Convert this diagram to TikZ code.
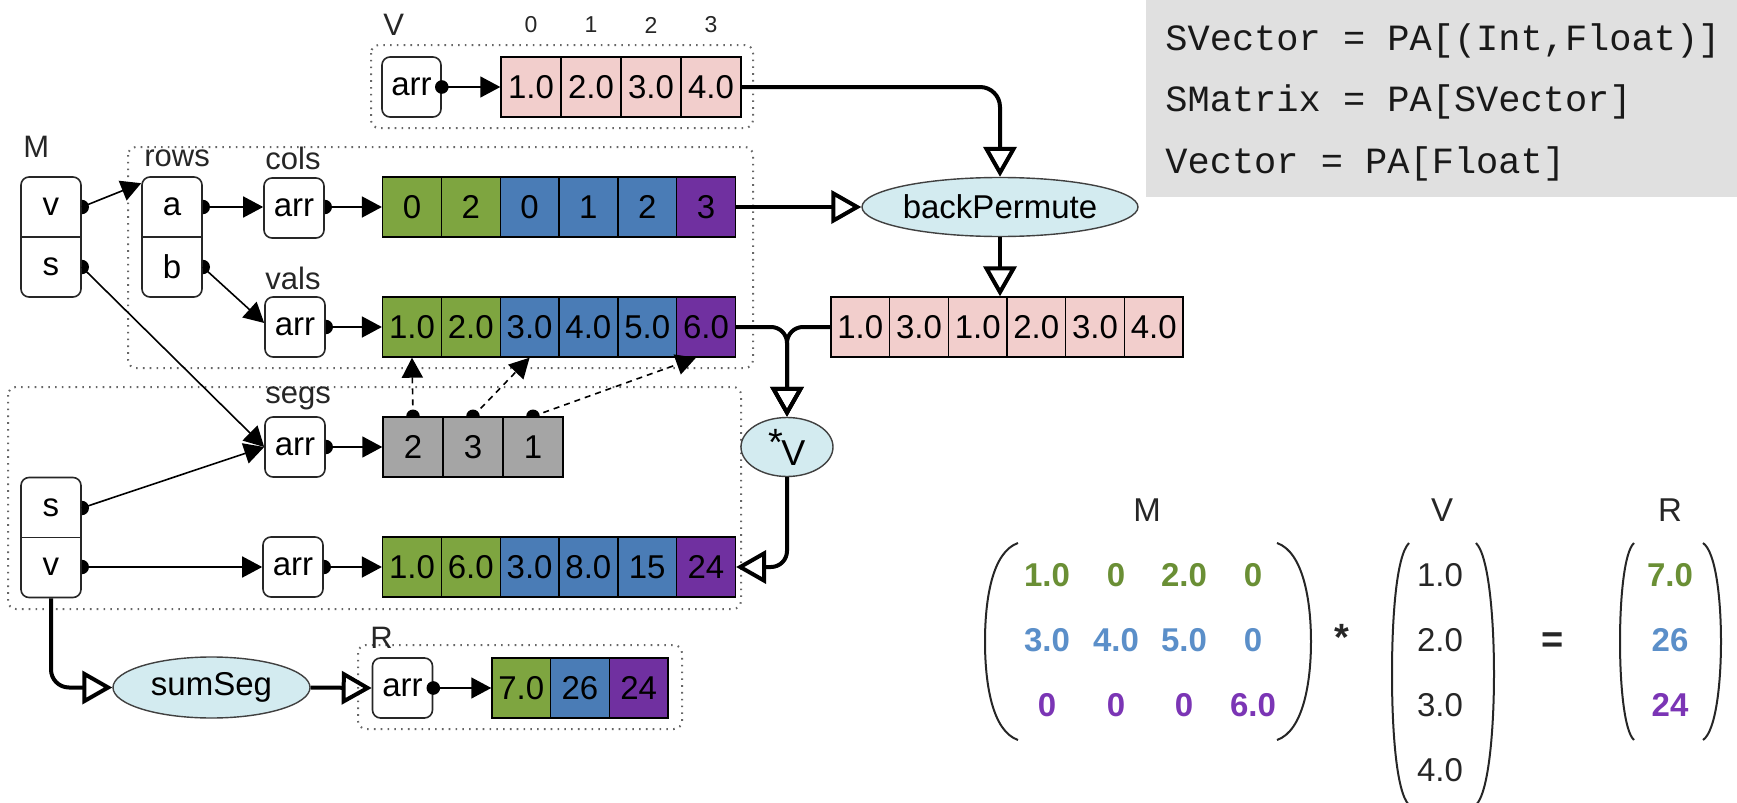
\documentclass[tikz,border=0pt]{standalone}
\usepackage{fontspec}
\setmainfont{Liberation Sans}
\newfontfamily\codefont{Liberation Mono}
\usetikzlibrary{arrows.meta,shapes.geometric,calc}
\definecolor{cgreen}{HTML}{7EA540}
\definecolor{cblue}{HTML}{4A7CB6}
\definecolor{cpurple}{HTML}{7030A0}
\definecolor{cpink}{HTML}{F2CECC}
\definecolor{cgray}{HTML}{A5A5A5}
\definecolor{opfill}{HTML}{D3EBF0}
\definecolor{codebg}{HTML}{E0E0E0}
\definecolor{tgreen}{HTML}{6A8F35}
\definecolor{tblue}{HTML}{5B8FC9}
\definecolor{tpurple}{HTML}{7B35B5}
\newcommand\halfdotR[1]{\fill (#1) ++(0pt,-3.6pt) arc[start angle=-90,end angle=90,radius=3.6pt] -- cycle;}
\newcommand\halfdotU[1]{\fill (#1) ++(-3.4pt,0pt) arc[start angle=180,end angle=0,radius=3.4pt] -- cycle;}
\tikzset{
 cf/.style={font=\fontsize{16.5pt}{19pt}\selectfont},
 cellbox/.style={draw=black, line width=0.7pt, minimum width=29.4pt, minimum height=30pt, inner sep=0pt, cf},
 arrbox/.style={draw=black!85, line width=0.8pt, rounded corners=4pt, fill=white, minimum width=30pt, minimum height=30pt, inner sep=0pt, cf},
 pairbox/.style={draw=black!85, line width=0.8pt, rounded corners=4pt, fill=white, minimum width=30pt, minimum height=60pt, inner sep=0pt},
 txt/.style={inner sep=0pt, cf},
 lbl/.style={inner sep=0pt, font=\fontsize{15.5pt}{18pt}\selectfont, text=black!85},
 idx/.style={inner sep=0pt, font=\fontsize{11.5pt}{13pt}\selectfont, text=black!85},
 op/.style={ellipse, draw=black!75, line width=0.7pt, fill=opfill, inner sep=0pt, cf},
 thinarrow/.style={line width=0.8pt, -{Triangle[length=10pt,width=10.5pt]}},
 dasharrow/.style={thinarrow, dash pattern=on 3pt off 2.5pt},
 flow/.style={line width=2pt, -{Triangle[open,length=15pt,width=16.5pt]}},
 grp/.style={draw=black!60, line width=1pt, dash pattern=on 0.8pt off 2.6pt, rounded corners=4pt},
 paren/.style={line width=1pt, draw=black!85},
 mnum/.style={inner sep=0pt, font=\bfseries\fontsize{16.5pt}{19pt}\selectfont},
 vnum/.style={inner sep=0pt, font=\fontsize{16.5pt}{19pt}\selectfont, text=black!85},
 code/.style={inner sep=0pt, font=\codefont\fontsize{18.5pt}{22pt}\selectfont, text=black!90},
}
\begin{document}
\begin{tikzpicture}[x=0.5pt,y=-0.5pt]
\useasboundingbox (0,0) rectangle (1737,803);
% group frames
\draw[grp] (371,45) rectangle (753,128);
\draw[grp] (128,147) rectangle (753,368);
\draw[grp] (8,387) rectangle (741,609);
\draw[grp] (358,645) rectangle (682,729);
% code box
\node[fill=codebg, minimum width=295.5pt, minimum height=98.5pt, anchor=north west, inner sep=0pt] (codebox) at (1146,0) {};
\node[code, anchor=base west] (l1) at (1165,50) {SVector = PA[(Int,Float)]};
\node[code, anchor=base west] (l2) at (1165,112) {SMatrix = PA[SVector]};
\node[code, anchor=base west] (l3) at (1165,173) {Vector = PA[Float]};
% V
\node[lbl, anchor=west] (Vlbl) at (383,25) {V};
\node[idx] (i0) at (531,25) {0};
\node[idx] (i1) at (591,25) {1};
\node[idx] (i2) at (651,25) {2};
\node[idx] (i3) at (711,25) {3};
\node[arrbox, minimum width=29.5pt] (Varr) at (411.5,87) {arr};
\node[cellbox, fill=cpink, minimum width=30pt] (V1) at (531,87) {1.0};
\node[cellbox, fill=cpink, minimum width=30pt] (V2) at (591,87) {2.0};
\node[cellbox, fill=cpink, minimum width=30pt] (V3) at (651,87) {3.0};
\node[cellbox, fill=cpink, minimum width=30pt] (V4) at (711,87) {4.0};
% M
\node[lbl, anchor=west] (Mlbl) at (23,147) {M};
\node[pairbox] (M) at (51,237) {};
\draw[line width=0.8pt, black!85] (M.west) -- (M.east);
\node[txt] (Mv) at (51,207) {v};
\node[txt] (Ms) at (51,267) {s};
% rows
\node[lbl, anchor=west] (rowslbl) at (144,158) {rows};
\node[pairbox] (rows) at (172,237) {};
\draw[line width=0.8pt, black!85] (rows.west) -- (rows.east);
\node[txt] (ra) at (172,207) {a};
\node[txt] (rb) at (172,267) {b};
% cols
\node[lbl, anchor=west] (colslbl) at (265,158) {cols};
\node[arrbox] (colsarr) at (294,208) {arr};
\node[cellbox, fill=cgreen] (c1) at (412,207) {0};
\node[cellbox, fill=cgreen] (c2) at (470.8,207) {2};
\node[cellbox, fill=cblue] (c3) at (529.6,207) {0};
\node[cellbox, fill=cblue] (c4) at (588.4,207) {1};
\node[cellbox, fill=cblue] (c5) at (647.2,207) {2};
\node[cellbox, fill=cpurple] (c6) at (706,207) {3};
% vals
\node[lbl, anchor=west] (valslbl) at (265,278) {vals};
\node[arrbox] (valsarr) at (295,327) {arr};
\node[cellbox, fill=cgreen] (v1) at (412,327) {1.0};
\node[cellbox, fill=cgreen] (v2) at (470.8,327) {2.0};
\node[cellbox, fill=cblue] (v3) at (529.6,327) {3.0};
\node[cellbox, fill=cblue] (v4) at (588.4,327) {4.0};
\node[cellbox, fill=cblue] (v5) at (647.2,327) {5.0};
\node[cellbox, fill=cpurple] (v6) at (706,327) {6.0};
% segs
\node[lbl, anchor=west] (segslbl) at (265,398) {segs};
\node[arrbox] (segsarr) at (295,447) {arr};
\node[cellbox, fill=cgray, minimum width=30pt] (g1) at (413,447) {2};
\node[cellbox, fill=cgray, minimum width=30pt] (g2) at (473,447) {3};
\node[cellbox, fill=cgray, minimum width=30pt] (g3) at (533,447) {1};
% s/v
\node[pairbox] (SV) at (51,537.5) {};
\draw[line width=0.8pt, black!85] (SV.west) -- (SV.east);
\node[txt] (Ss) at (51,508) {s};
\node[txt] (Sv) at (51,567) {v};
\node[arrbox] (sumarr) at (293,567) {arr};
\node[cellbox, fill=cgreen] (t1) at (412,567) {1.0};
\node[cellbox, fill=cgreen] (t2) at (470.8,567) {6.0};
\node[cellbox, fill=cblue] (t3) at (529.6,567) {3.0};
\node[cellbox, fill=cblue] (t4) at (588.4,567) {8.0};
\node[cellbox, fill=cblue] (t5) at (647.2,567) {15};
\node[cellbox, fill=cpurple] (t6) at (706,567) {24};
% R
\node[lbl, anchor=west] (Rlbl) at (370,638) {R};
\node[arrbox] (Rarr) at (402.5,688) {arr};
\node[cellbox, fill=cgreen, minimum width=29.35pt] (r1) at (521.3,688) {7.0};
\node[cellbox, fill=cblue, minimum width=29.35pt] (r2) at (580,688) {26};
\node[cellbox, fill=cpurple, minimum width=29.35pt] (r3) at (638.7,688) {24};
% result of backPermute
\node[cellbox, fill=cpink, minimum width=29.33pt] (p1) at (860.3,327) {1.0};
\node[cellbox, fill=cpink, minimum width=29.33pt] (p2) at (919,327) {3.0};
\node[cellbox, fill=cpink, minimum width=29.33pt] (p3) at (977.7,327) {1.0};
\node[cellbox, fill=cpink, minimum width=29.33pt] (p4) at (1036.3,327) {2.0};
\node[cellbox, fill=cpink, minimum width=29.33pt] (p5) at (1095,327) {3.0};
\node[cellbox, fill=cpink, minimum width=29.33pt] (p6) at (1153.7,327) {4.0};
% operations
\node[op, minimum width=138pt, minimum height=29.5pt] (bp) at (1000,207) {backPermute};
\node[op, minimum width=46pt, minimum height=29.5pt] (mulV) at (787,447) {\raisebox{5pt}{\fontsize{19pt}{20pt}\selectfont *}\kern-1pt{\fontsize{18pt}{20pt}\selectfont V}};
\node[op, minimum width=98.5pt, minimum height=30.5pt] (ss) at (211.5,687.5) {sumSeg};
% thin connectors
\draw[thinarrow] (M.east|-Mv) -- ($(rows.north west)+(0,7)$);
\halfdotR{M.east|-Mv}
\draw[thinarrow] (M.east|-Ms) -- (segsarr.west);
\halfdotR{M.east|-Ms}
\draw[thinarrow] (rows.east|-ra) -- (colsarr.west|-ra);
\halfdotR{rows.east|-ra}
\draw[thinarrow] (rows.east|-rb) -- ($(valsarr.west)+(0,-4)$);
\halfdotR{rows.east|-rb}
\draw[thinarrow] (Varr.east) -- (V1.west);
\fill (Varr.east) circle (3.4pt);
\draw[thinarrow] (colsarr.east|-c1) -- (c1.west);
\halfdotR{colsarr.east|-c1}
\draw[thinarrow] (valsarr.east) -- (v1.west);
\halfdotR{valsarr.east}
\draw[thinarrow] (segsarr.east) -- (g1.west);
\halfdotR{segsarr.east}
\draw[thinarrow] (SV.east|-Ss) -- (segsarr.west);
\halfdotR{SV.east|-Ss}
\draw[thinarrow] (SV.east|-Sv) -- (sumarr.west);
\halfdotR{SV.east|-Sv}
\draw[thinarrow] (sumarr.east) -- (t1.west);
\halfdotR{sumarr.east}
\draw[thinarrow] (Rarr.east) -- (r1.west);
\fill (Rarr.east) circle (3.4pt);
% dashed segment pointers
\draw[dasharrow] (g1.north) -- (v1.south);
\halfdotU{g1.north}
\draw[dasharrow] (g2.north) -- (v3.south);
\halfdotU{g2.north}
\draw[dasharrow] (g3.north) -- ($(v6.south)+(-10,0)$);
\halfdotU{g3.north}
% thick flows
\draw[flow, rounded corners=10pt] (V4.east) -| (bp.north);
\draw[flow] (c6.east) -- (bp.west);
\draw[flow] (bp.south) -- (bp.south|-p3.north);
\draw[flow, rounded corners=8pt] (v6.east) -| (mulV.north);
\draw[flow, rounded corners=8pt] (p1.west) -| (mulV.north);
\draw[flow, rounded corners=8pt] (mulV.south) |- (t6.east);
\draw[flow, rounded corners=9pt] (SV.south) |- (ss.west);
\draw[flow] (ss.east) -- (Rarr.west);
% equation
\node[vnum] (eqM) at (1147,510) {M};
\node[vnum] (eqV) at (1442,510) {V};
\node[vnum] (eqR) at (1670,510) {R};
\draw[paren] (1018,543) .. controls (992,552) and (985,600) .. (985,641.5) .. controls (985,683) and (992,731) .. (1018,740);
\draw[paren] (1277,543) .. controls (1303,552) and (1311,600) .. (1311,641.5) .. controls (1311,683) and (1303,731) .. (1277,740);
\draw[paren] (1409,543) .. controls (1396,556) and (1392,620) .. (1392,674) .. controls (1392,728) and (1396,792) .. (1409,805);
\draw[paren] (1476,543) .. controls (1489,556) and (1494,620) .. (1494,674) .. controls (1494,728) and (1489,792) .. (1476,805);
\draw[paren] (1634,543) .. controls (1624,552) and (1620,600) .. (1620,641.5) .. controls (1620,683) and (1624,731) .. (1634,740);
\draw[paren] (1703,543) .. controls (1716,552) and (1721,600) .. (1721,641.5) .. controls (1721,683) and (1716,731) .. (1703,740);
\node[mnum, text=tgreen] (m11) at (1047,575) {1.0};
\node[mnum, text=tgreen] (m12) at (1116,575) {0};
\node[mnum, text=tgreen] (m13) at (1184,575) {2.0};
\node[mnum, text=tgreen] (m14) at (1253,575) {0};
\node[mnum, text=tblue] (m21) at (1047,640) {3.0};
\node[mnum, text=tblue] (m22) at (1116,640) {4.0};
\node[mnum, text=tblue] (m23) at (1184,640) {5.0};
\node[mnum, text=tblue] (m24) at (1253,640) {0};
\node[mnum, text=tpurple] (m31) at (1047,705) {0};
\node[mnum, text=tpurple] (m32) at (1116,705) {0};
\node[mnum, text=tpurple] (m33) at (1184,705) {0};
\node[mnum, text=tpurple] (m34) at (1253,705) {6.0};
\node[mnum, text=black!85, anchor=base, font=\bfseries\fontsize{19pt}{20pt}\selectfont] (times) at (1342,650) {*};
\node[vnum] (e1) at (1440,575) {1.0};
\node[vnum] (e2) at (1440,640) {2.0};
\node[vnum] (e3) at (1440,705) {3.0};
\node[vnum] (e4) at (1440,770) {4.0};
\node[mnum, text=black!85, anchor=base, font=\bfseries\fontsize{19pt}{20pt}\selectfont] (eq) at (1553,652) {=};
\node[mnum, text=tgreen] (res1) at (1670,575) {7.0};
\node[mnum, text=tblue] (res2) at (1670,640) {26};
\node[mnum, text=tpurple] (res3) at (1670,705) {24};
\end{tikzpicture}
\end{document}
